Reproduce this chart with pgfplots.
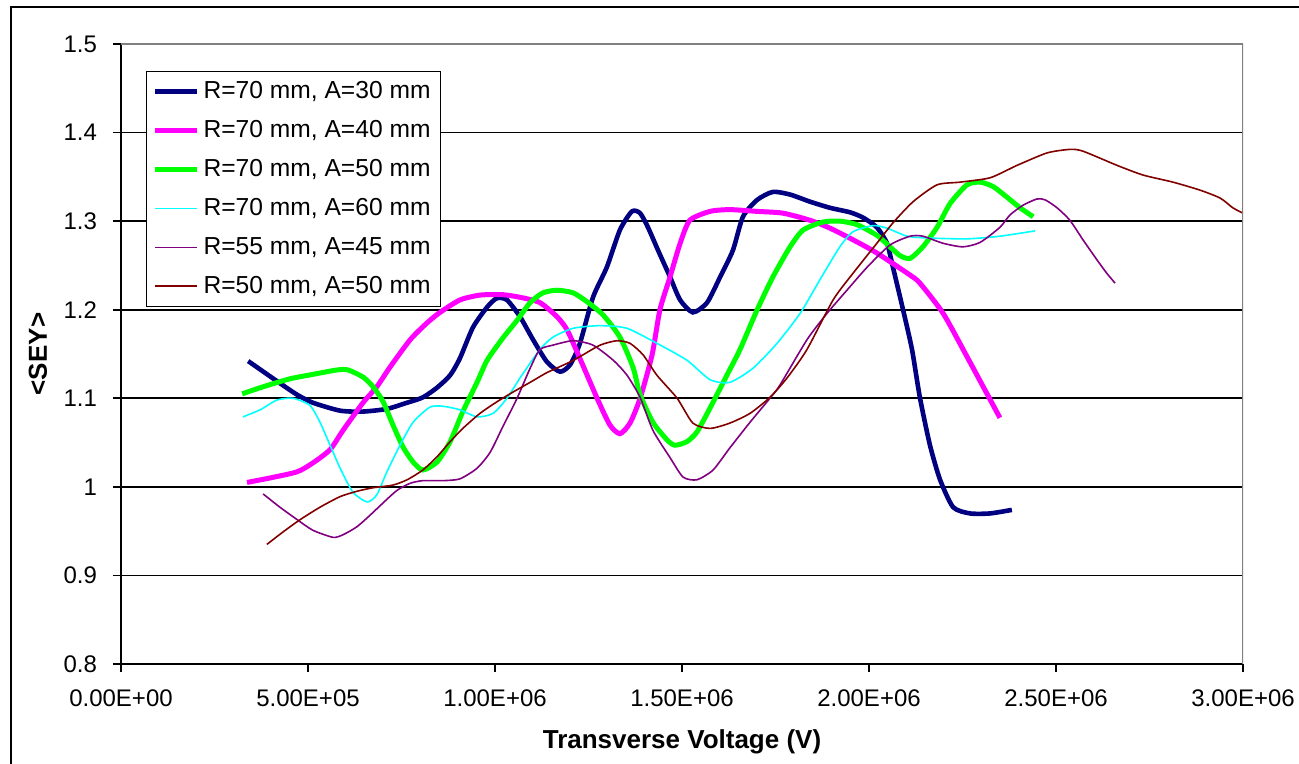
\documentclass[border=0pt]{standalone}
\usepackage{fontspec}
\setmainfont{Liberation Sans}
\usepackage{pgfplots}
\pgfplotsset{compat=1.18}
\definecolor{cNavy}{RGB}{0,0,128}
\definecolor{cMag}{RGB}{255,0,255}
\definecolor{cGreen}{RGB}{0,255,0}
\definecolor{cCyan}{RGB}{0,255,255}
\definecolor{cPurple}{RGB}{128,0,128}
\definecolor{cBrown}{RGB}{128,0,0}
\begin{document}
\begin{tikzpicture}
\useasboundingbox (-60.5pt,-50pt) rectangle (589pt,332pt);
\draw[line width=0.9pt] (-55pt,-60pt) -- (-55pt,328.5pt) -- (620pt,328.5pt);
\begin{axis}[
  at={(0,0)}, anchor=south west,
  scale only axis, width=561pt, height=310pt,
  xmin=0, xmax=3, ymin=0.8, ymax=1.5,
  axis x line*=bottom, axis y line*=left,
  axis line style={black, line width=0.8pt, -},
  xtick={0,0.5,1,1.5,2,2.5,3},
  xticklabels={0.00E+00,5.00E+05,1.00E+06,1.50E+06,2.00E+06,2.50E+06,3.00E+06},
  ytick={0.8,0.9,1,1.1,1.2,1.3,1.4,1.5},
  yticklabels={0.8,0.9,1,1.1,1.2,1.3,1.4,1.5},
  tick align=outside, major tick length=4pt,
  tick style={black, line width=0.8pt},
  ymajorgrids, grid style={black, line width=0.85pt},
  tick label style={font=\fontsize{12}{14}\selectfont},
  xticklabel style={yshift=-5.5pt},
  yticklabel style={xshift=-4.5pt},
  xlabel={\bfseries Transverse Voltage (V)},
  ylabel={\bfseries <SEY>},
  label style={font=\fontsize{13}{15}\selectfont},
  xlabel style={at={(axis description cs:0.5,-0.126)}, anchor=center},
  ylabel style={at={(axis description cs:-0.074,0.5)}, anchor=center},
  legend style={at={(axis description cs:0.0223,0.9565)}, anchor=north west,
    draw=black, line width=0.6pt, fill=white, font=\fontsize{12.3}{14}\selectfont,
    row sep=5.4pt, inner sep=3pt},
  legend cell align=left,
  legend image code/.code={\draw[sharp plot] (0pt,0pt) -- (21pt,0pt);},
  every axis plot/.append style={smooth, tension=0.4},
  clip=true,
]
\addplot[cNavy, line width=2.3pt] coordinates {
(0.340,1.142)(0.425,1.117)(0.471,1.104)(0.513,1.095)(0.586,1.086)(0.647,1.085)
(0.711,1.088)(0.765,1.095)(0.807,1.101)(0.845,1.112)(0.880,1.126)(0.906,1.145)
(0.941,1.180)(0.979,1.203)(1.005,1.213)(1.032,1.211)(1.067,1.192)(1.102,1.166)
(1.139,1.141)(1.174,1.130)(1.201,1.138)(1.227,1.162)(1.262,1.214)(1.299,1.248)
(1.334,1.290)(1.366,1.311)(1.388,1.309)(1.409,1.293)(1.436,1.267)(1.468,1.237)
(1.495,1.211)(1.529,1.197)(1.567,1.208)(1.602,1.237)(1.636,1.267)(1.663,1.305)
(1.701,1.324)(1.743,1.333)(1.789,1.330)(1.842,1.322)(1.896,1.315)(1.949,1.310)
(1.984,1.304)(2.021,1.293)(2.048,1.275)(2.064,1.248)(2.091,1.200)(2.115,1.155)
(2.136,1.101)(2.163,1.047)(2.190,1.008)(2.225,0.977)(2.270,0.970)(2.324,0.970)
(2.382,0.974)};
\addlegendentry{R=70 mm, A=30 mm}
\addplot[cMag, line width=2.5pt] coordinates {
(0.337,1.005)(0.398,1.010)(0.471,1.017)(0.513,1.027)(0.559,1.042)(0.594,1.064)
(0.647,1.095)(0.684,1.113)(0.719,1.135)(0.773,1.166)(0.818,1.185)(0.853,1.197)
(0.906,1.211)(0.952,1.216)(0.979,1.217)(1.021,1.217)(1.067,1.214)(1.120,1.208)(1.166,1.192)
(1.193,1.177)(1.227,1.145)(1.273,1.100)(1.307,1.070)(1.334,1.060)(1.361,1.072)
(1.388,1.100)(1.420,1.149)(1.441,1.200)(1.468,1.237)(1.495,1.275)(1.521,1.301)
(1.575,1.311)(1.628,1.313)(1.701,1.311)(1.770,1.309)(1.842,1.301)(1.896,1.292)
(1.957,1.279)(2.021,1.264)(2.110,1.239)(2.136,1.230)(2.198,1.196)(2.262,1.147)
(2.350,1.078)};
\addlegendentry{R=70 mm, A=40 mm}
\addplot[cGreen, line width=2.5pt] coordinates {
(0.324,1.105)(0.380,1.113)(0.452,1.122)(0.513,1.127)(0.578,1.132)(0.607,1.132)
(0.647,1.124)(0.674,1.113)(0.701,1.096)(0.727,1.070)(0.754,1.045)(0.781,1.028)
(0.807,1.019)(0.845,1.028)(0.880,1.051)(0.914,1.085)(0.952,1.118)(0.979,1.143)
(1.021,1.168)(1.059,1.188)(1.094,1.208)(1.128,1.219)(1.166,1.222)(1.209,1.219)
(1.246,1.209)(1.289,1.194)(1.334,1.169)(1.369,1.135)(1.388,1.104)(1.422,1.073)
(1.460,1.053)(1.481,1.047)(1.513,1.051)(1.540,1.062)(1.575,1.089)(1.620,1.126)
(1.655,1.155)(1.701,1.200)(1.743,1.237)(1.789,1.271)(1.824,1.290)(1.877,1.299)
(1.922,1.300)(1.968,1.296)(2.021,1.284)(2.056,1.271)(2.083,1.261)(2.110,1.258)
(2.144,1.271)(2.182,1.293)(2.217,1.320)(2.262,1.341)(2.297,1.344)(2.332,1.339)
(2.369,1.327)(2.404,1.315)(2.439,1.305)};
\addlegendentry{R=70 mm, A=50 mm}
\addplot[cCyan, line width=0.8pt] coordinates {
(0.326,1.079)(0.372,1.087)(0.417,1.098)(0.460,1.100)(0.505,1.092)(0.532,1.073)
(0.559,1.047)(0.586,1.021)(0.620,0.994)(0.658,0.983)(0.684,0.991)(0.711,1.017)
(0.746,1.047)(0.781,1.073)(0.826,1.090)(0.861,1.091)(0.906,1.087)(0.952,1.079)
(0.995,1.083)(1.032,1.100)(1.067,1.123)(1.120,1.155)(1.155,1.169)(1.209,1.179)
(1.281,1.182)(1.353,1.179)(1.433,1.162)(1.513,1.143)(1.575,1.121)(1.628,1.118)
(1.690,1.134)(1.754,1.162)(1.816,1.196)(1.869,1.234)(1.922,1.271)(1.957,1.288)
(2.011,1.295)(2.048,1.292)(2.102,1.283)(2.155,1.281)(2.262,1.280)(2.350,1.283)
(2.444,1.289)};
\addlegendentry{R=70 mm, A=60 mm}
\addplot[cPurple, line width=0.8pt] coordinates {
(0.380,0.992)(0.425,0.977)(0.471,0.963)(0.513,0.951)(0.567,0.943)(0.594,0.946)
(0.631,0.955)(0.666,0.968)(0.701,0.982)(0.738,0.996)(0.773,1.004)(0.807,1.007)
(0.861,1.007)(0.906,1.009)(0.952,1.021)(0.987,1.039)(1.021,1.068)(1.059,1.100)
(1.094,1.134)(1.120,1.155)(1.155,1.160)(1.209,1.165)(1.262,1.160)(1.316,1.143)
(1.353,1.126)(1.388,1.101)(1.422,1.064)(1.468,1.033)(1.503,1.011)(1.540,1.008)
(1.583,1.019)(1.628,1.044)(1.682,1.073)(1.735,1.100)(1.762,1.115)(1.834,1.166)
(1.888,1.196)(1.941,1.222)(1.995,1.248)(2.056,1.273)(2.110,1.283)(2.144,1.283)
(2.198,1.275)(2.251,1.271)(2.297,1.276)(2.350,1.293)(2.377,1.307)(2.412,1.318)
(2.449,1.325)(2.471,1.324)(2.503,1.315)(2.537,1.301)(2.572,1.279)(2.610,1.256)
(2.636,1.241)(2.658,1.230)};
\addlegendentry{R=55 mm, A=45 mm}
\addplot[cBrown, line width=0.8pt] coordinates {
(0.390,0.935)(0.433,0.949)(0.479,0.963)(0.532,0.977)(0.586,0.989)(0.631,0.995)
(0.674,0.999)(0.727,1.002)(0.765,1.008)(0.807,1.019)(0.845,1.034)(0.880,1.051)
(0.914,1.066)(0.960,1.083)(1.005,1.096)(1.048,1.107)(1.094,1.118)(1.139,1.129)
(1.201,1.141)(1.227,1.147)(1.281,1.160)(1.326,1.165)(1.361,1.162)(1.396,1.149)
(1.433,1.126)(1.487,1.100)(1.529,1.072)(1.575,1.066)(1.628,1.072)(1.682,1.083)
(1.735,1.101)(1.781,1.123)(1.834,1.155)(1.904,1.211)(1.957,1.241)(2.021,1.275)
(2.064,1.298)(2.118,1.322)(2.182,1.341)(2.243,1.344)(2.324,1.349)(2.396,1.363)
(2.476,1.377)(2.537,1.381)(2.572,1.379)(2.663,1.363)(2.733,1.352)(2.813,1.344)
(2.885,1.335)(2.939,1.326)(2.973,1.315)(3.000,1.309)};
\addlegendentry{R=50 mm, A=50 mm}
\draw[gray, line width=0.8pt] (rel axis cs:0,1) -- (rel axis cs:1,1) -- (rel axis cs:1,0);
\end{axis}
\end{tikzpicture}
\end{document}
